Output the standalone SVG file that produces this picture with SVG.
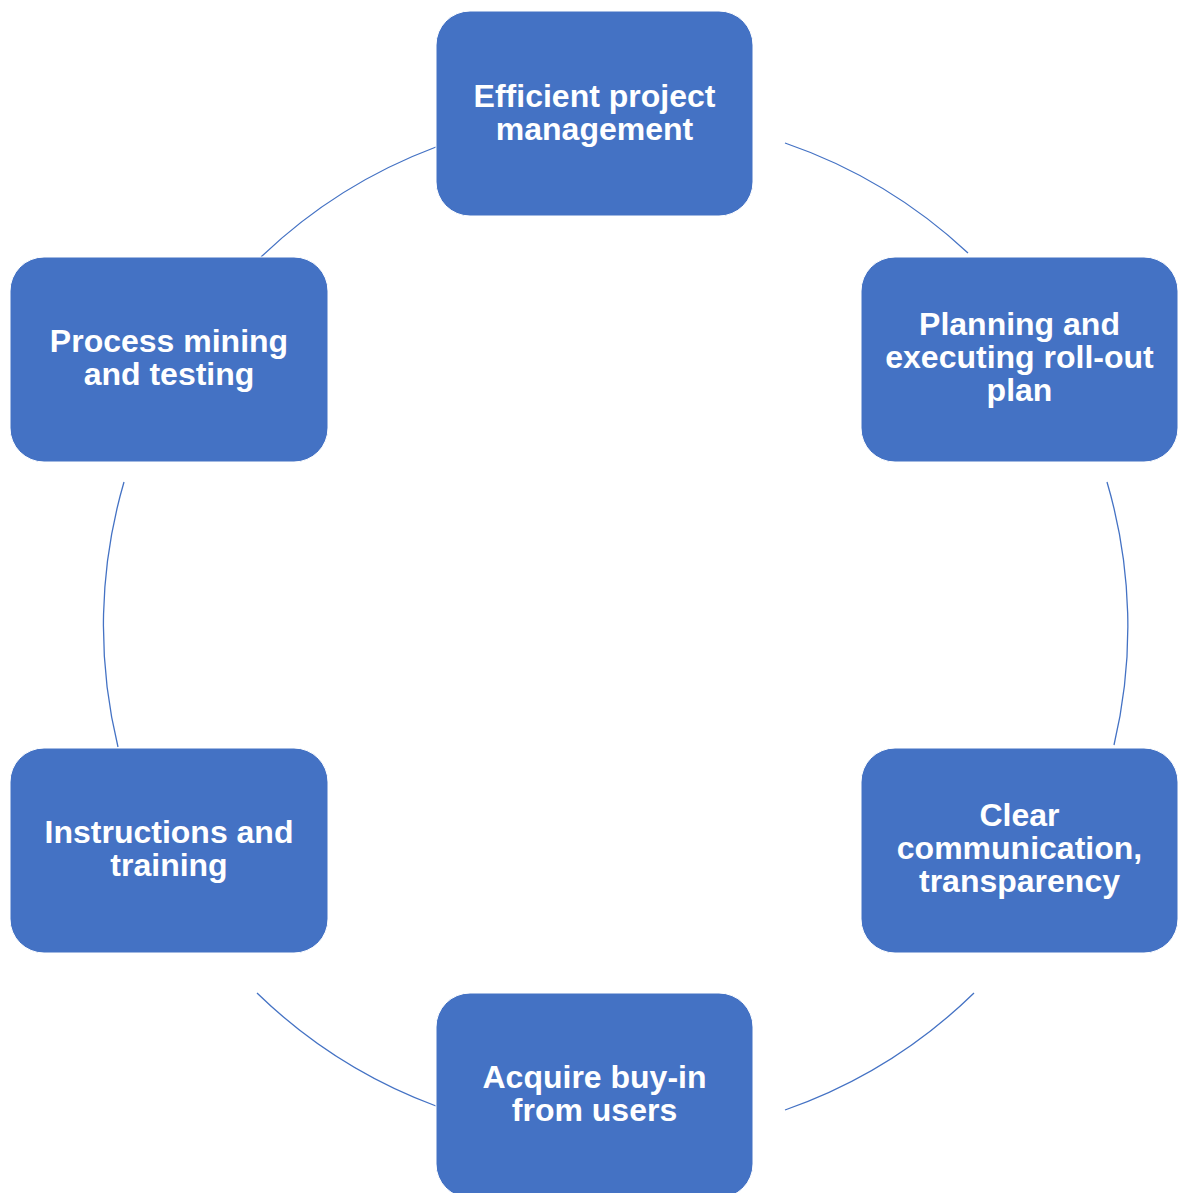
<svg xmlns="http://www.w3.org/2000/svg" width="1179" height="1193" viewBox="0 0 1179 1193">
<style>
.node rect{fill:#4472C4;stroke:#ffffff;stroke-width:1}
.node text{font-family:"Liberation Sans",Arial,sans-serif;font-weight:bold;font-size:32px;fill:#ffffff;text-anchor:middle}
.conn path{fill:none;stroke:#4472C4;stroke-width:1.3}
</style>
<rect width="1179" height="1193" fill="#ffffff"/>
<g id="connectors" class="conn">
<path d="M 261 257 A 512 512 0 0 1 436 147"/>
<path d="M 785 143 A 512 512 0 0 1 968 253"/>
<path d="M 1107 482 A 512 512 0 0 1 1114 745"/>
<path d="M 974 993 A 512 512 0 0 1 785 1110"/>
<path d="M 436 1106 A 512 512 0 0 1 257 993"/>
<path d="M 118 747 A 512 512 0 0 1 124 482"/>
</g>
<g id="node-efficient" class="node">
<rect x="436" y="11" width="317" height="205" rx="34"/>
<text x="594.5" y="107">Efficient project</text>
<text x="594.5" y="140">management</text>
</g>
<g id="node-planning" class="node">
<rect x="861" y="257" width="317" height="205" rx="34"/>
<text x="1019.5" y="335">Planning and</text>
<text x="1019.5" y="368">executing roll-out</text>
<text x="1019.5" y="401">plan</text>
</g>
<g id="node-clear" class="node">
<rect x="861" y="748" width="317" height="205" rx="34"/>
<text x="1019.5" y="826">Clear</text>
<text x="1019.5" y="859">communication,</text>
<text x="1019.5" y="892">transparency</text>
</g>
<g id="node-acquire" class="node">
<rect x="436" y="993" width="317" height="205" rx="34"/>
<text x="594.5" y="1088">Acquire buy-in</text>
<text x="594.5" y="1121">from users</text>
</g>
<g id="node-instructions" class="node">
<rect x="10" y="748" width="318" height="205" rx="34"/>
<text x="169" y="843">Instructions and</text>
<text x="169" y="876">training</text>
</g>
<g id="node-process" class="node">
<rect x="10" y="257" width="318" height="205" rx="34"/>
<text x="169" y="352">Process mining</text>
<text x="169" y="385">and testing</text>
</g>
</svg>
